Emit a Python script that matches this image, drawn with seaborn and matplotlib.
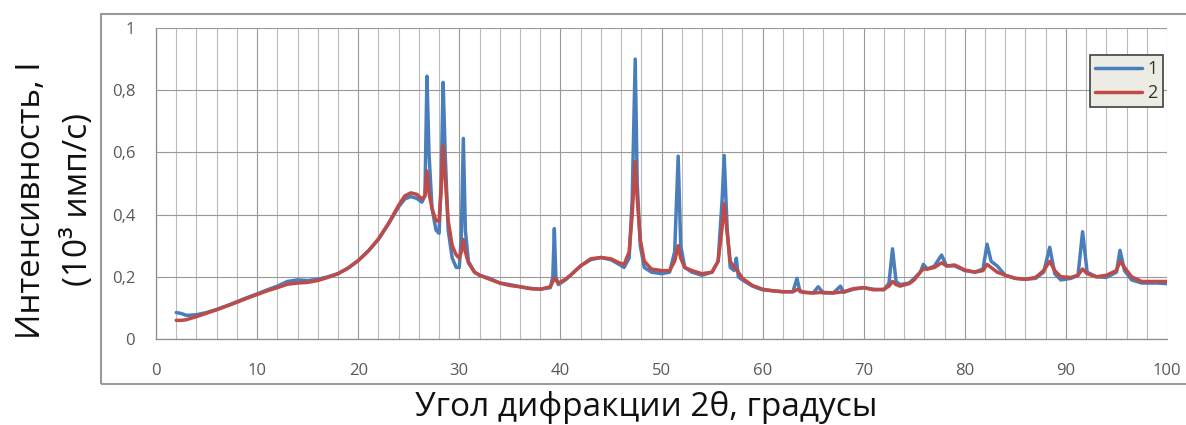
import numpy as np
import pandas as pd
import seaborn as sns
import matplotlib.pyplot as plt
from matplotlib.patches import Rectangle
from matplotlib.ticker import MultipleLocator, FuncFormatter

# ---- data ----
x1 = [2.0, 2.5, 3.0, 4.0, 5.0, 6.0, 7.0, 8.0, 9.0, 10.0, 11.0, 12.0, 13.0, 14.0, 15.0, 16.0, 17.0, 18.0,
      19.0, 20.0, 21.0, 22.0, 23.0, 24.0, 24.6, 25.2, 25.8, 26.3, 26.6, 26.8, 27.0, 27.3, 27.7, 28.0, 28.2,
      28.4, 28.6, 28.9, 29.3, 29.7, 30.0, 30.2, 30.4, 30.6, 30.9, 31.5, 32.0, 33.0, 34.0, 35.0, 36.0, 37.0,
      38.0, 39.0, 39.25, 39.4, 39.55, 39.8, 40.5, 41.0, 42.0, 43.0, 44.0, 45.0, 45.8, 46.3, 46.8, 47.1,
      47.4, 47.6, 47.9, 48.3, 49.0, 50.0, 50.8, 51.3, 51.65, 51.9, 52.3, 53.0, 54.0, 55.0, 55.6, 56.0,
      56.2, 56.5, 56.8, 57.2, 57.4, 57.6, 58.0, 59.0, 60.0, 61.0, 62.0, 63.0, 63.4, 63.7, 65.0, 65.5,
      66.0, 67.0, 67.7, 68.0, 69.0, 70.0, 71.0, 72.0, 72.5, 72.85, 73.2, 73.6, 74.5, 75.0, 75.6, 75.9,
      76.3, 77.0, 77.7, 78.2, 79.0, 80.0, 81.0, 81.8, 82.2, 82.6, 83.2, 84.0, 85.0, 86.0, 87.0, 87.8,
      88.4, 88.9, 89.5, 90.5, 91.2, 91.65, 92.1, 93.0, 94.0, 95.0, 95.35, 95.8, 96.5, 97.5, 99.0, 100.0]
y1 = [0.085, 0.082, 0.076, 0.078, 0.085, 0.095, 0.107, 0.120, 0.133, 0.145, 0.158, 0.170, 0.185, 0.190,
      0.188, 0.192, 0.200, 0.210, 0.228, 0.252, 0.283, 0.320, 0.370, 0.425, 0.450, 0.458, 0.452, 0.440,
      0.460, 0.845, 0.600, 0.420, 0.350, 0.340, 0.500, 0.825, 0.600, 0.350, 0.260, 0.230, 0.230, 0.330,
      0.645, 0.350, 0.250, 0.215, 0.205, 0.195, 0.180, 0.175, 0.168, 0.163, 0.160, 0.165, 0.200, 0.355,
      0.200, 0.175, 0.190, 0.205, 0.235, 0.255, 0.262, 0.255, 0.240, 0.230, 0.260, 0.450, 0.900, 0.500,
      0.300, 0.230, 0.215, 0.210, 0.215, 0.280, 0.588, 0.300, 0.230, 0.215, 0.205, 0.215, 0.250, 0.450,
      0.590, 0.350, 0.230, 0.220, 0.260, 0.200, 0.190, 0.170, 0.158, 0.155, 0.152, 0.152, 0.195, 0.152,
      0.148, 0.168, 0.148, 0.148, 0.170, 0.150, 0.160, 0.165, 0.160, 0.158, 0.180, 0.290, 0.185, 0.175,
      0.180, 0.195, 0.215, 0.240, 0.225, 0.235, 0.270, 0.235, 0.235, 0.220, 0.215, 0.225, 0.305, 0.250,
      0.235, 0.205, 0.195, 0.192, 0.195, 0.215, 0.295, 0.210, 0.190, 0.195, 0.205, 0.345, 0.215, 0.200,
      0.198, 0.215, 0.285, 0.220, 0.190, 0.180, 0.180, 0.178]

x2 = [2.0, 2.5, 3.0, 4.0, 5.0, 6.0, 7.0, 8.0, 9.0, 10.0, 11.0, 12.0, 13.0, 14.0, 15.0, 16.0, 17.0, 18.0,
      19.0, 20.0, 21.0, 22.0, 23.0, 24.0, 24.6, 25.2, 25.8, 26.3, 26.6, 26.8, 27.0, 27.3, 27.7, 28.0, 28.2,
      28.4, 28.6, 28.9, 29.3, 29.7, 30.0, 30.2, 30.4, 30.6, 30.9, 31.5, 32.0, 33.0, 34.0, 35.0, 36.0, 37.0,
      38.0, 39.0, 39.4, 39.8, 40.5, 41.0, 42.0, 43.0, 44.0, 45.0, 45.8, 46.3, 46.8, 47.1, 47.4, 47.6,
      47.9, 48.3, 49.0, 50.0, 50.8, 51.3, 51.65, 51.9, 52.3, 53.0, 54.0, 55.0, 55.6, 56.0, 56.2, 56.5,
      56.8, 57.2, 57.5, 58.0, 59.0, 60.0, 61.0, 62.0, 63.0, 63.5, 64.0, 65.0, 66.0, 67.0, 68.0, 69.0,
      70.0, 71.0, 72.0, 72.5, 72.85, 73.2, 73.6, 74.5, 75.0, 75.6, 75.9, 76.3, 77.0, 77.7, 78.2, 79.0,
      80.0, 81.0, 81.8, 82.2, 82.6, 83.2, 84.0, 85.0, 86.0, 87.0, 87.8, 88.4, 88.9, 89.5, 90.5, 91.2,
      91.65, 92.1, 93.0, 94.0, 95.0, 95.35, 95.8, 96.5, 97.5, 99.0, 100.0]
y2 = [0.060, 0.060, 0.062, 0.072, 0.083, 0.094, 0.106, 0.118, 0.131, 0.143, 0.155, 0.165, 0.176, 0.180,
      0.182, 0.188, 0.198, 0.210, 0.228, 0.252, 0.283, 0.322, 0.372, 0.430, 0.460, 0.470, 0.465, 0.450,
      0.460, 0.540, 0.470, 0.420, 0.380, 0.380, 0.480, 0.620, 0.520, 0.380, 0.300, 0.270, 0.260, 0.280,
      0.320, 0.280, 0.245, 0.215, 0.205, 0.192, 0.180, 0.172, 0.168, 0.162, 0.160, 0.168, 0.195, 0.180,
      0.192, 0.205, 0.235, 0.258, 0.262, 0.258, 0.245, 0.240, 0.280, 0.400, 0.570, 0.450, 0.320, 0.250,
      0.225, 0.220, 0.220, 0.250, 0.300, 0.260, 0.230, 0.220, 0.210, 0.215, 0.250, 0.360, 0.435, 0.340,
      0.250, 0.230, 0.220, 0.195, 0.172, 0.160, 0.155, 0.152, 0.152, 0.160, 0.150, 0.148, 0.150, 0.148,
      0.152, 0.162, 0.165, 0.158, 0.160, 0.170, 0.185, 0.175, 0.170, 0.178, 0.190, 0.215, 0.225, 0.225,
      0.230, 0.245, 0.235, 0.238, 0.222, 0.215, 0.220, 0.240, 0.230, 0.215, 0.205, 0.195, 0.192, 0.198,
      0.220, 0.250, 0.220, 0.200, 0.198, 0.205, 0.225, 0.210, 0.200, 0.205, 0.220, 0.250, 0.230, 0.200,
      0.185, 0.185, 0.185]

series_labels = ["1", "2"]
x_ticks = [0, 10, 20, 30, 40, 50, 60, 70, 80, 90, 100]
y_ticks = [0, 0.2, 0.4, 0.6, 0.8, 1.0]

# ---- figure ----
sns.set_style("white")
plt.rcParams['font.family'] = ['Open Sans', 'DejaVu Sans']

fig = plt.figure(figsize=(11.86, 4.25), dpi=100)
ax = fig.add_axes([156 / 1186, 1 - 339 / 425, (1167 - 156) / 1186, (339 - 28) / 425])

# outer chart-area border
fig.patches.append(Rectangle((101 / 1186, 1 - 384 / 425), 1.0, (384 - 14) / 425,
                             transform=fig.transFigure, fill=False,
                             edgecolor="#9a9a9a", linewidth=1.5))

blue = "#4A7EBB"
red = "#BE4B48"
sns.lineplot(x=x1, y=y1, ax=ax, color=blue, linewidth=2.5, label=series_labels[0])
sns.lineplot(x=x2, y=y2, ax=ax, color=red, linewidth=2.5, label=series_labels[1])

ax.set_xlim(0, 100)
ax.set_ylim(0, 1)
ax.set_xticks(x_ticks)
ax.set_yticks(y_ticks)
ax.xaxis.set_minor_locator(MultipleLocator(2))
ax.yaxis.set_major_formatter(FuncFormatter(lambda v, p: ("%g" % round(v, 1)).replace(".", ",")))

ax.grid(True, which="major", axis="both", color="#999999", linewidth=0.8)
ax.grid(True, which="minor", axis="x", color="#bbbbbb", linewidth=0.8)
ax.set_axisbelow(True)

for s in ["top", "right"]:
    ax.spines[s].set_visible(False)
ax.spines["left"].set_color("#8c8c8c")
ax.spines["bottom"].set_color("#8c8c8c")
ax.spines["left"].set_linewidth(0.9)
ax.spines["bottom"].set_linewidth(0.9)

ax.tick_params(axis="both", which="major", direction="out", length=5, width=0.8,
               color="#8c8c8c", labelcolor="#595959", labelsize=12)
ax.tick_params(axis="x", which="major", pad=12)
ax.tick_params(axis="y", which="major", pad=10)
ax.tick_params(axis="x", which="minor", length=0)

ax.set_xlabel("")
ax.set_ylabel("")

fig.text(646 / 1186, 1 - 408 / 425, "Угол дифракции 2θ, градусы", ha="center", va="center",
         fontsize=24, color="#111111")
fig.text(32 / 1186, 1 - 200 / 425, "Интенсивность, I", ha="center", va="center",
         rotation=90, fontsize=24, color="#111111")
fig.text(78 / 1186, 1 - 200 / 425, "(10³ имп/с)", ha="center", va="center",
         rotation=90, fontsize=24, color="#111111")

leg = ax.legend(loc="upper right", bbox_to_anchor=(0.996, 0.913), fontsize=13,
                frameon=True, fancybox=False, handlelength=2.6, handletextpad=0.3,
                borderpad=0.3, labelspacing=0.3, borderaxespad=0)
leg.get_frame().set_facecolor("#ECECE4")
leg.get_frame().set_edgecolor("#404040")
leg.get_frame().set_linewidth(1.2)
leg.get_frame().set_alpha(1)
for t in leg.get_texts():
    t.set_color("#333333")

fig.savefig("out.png", dpi=100)
